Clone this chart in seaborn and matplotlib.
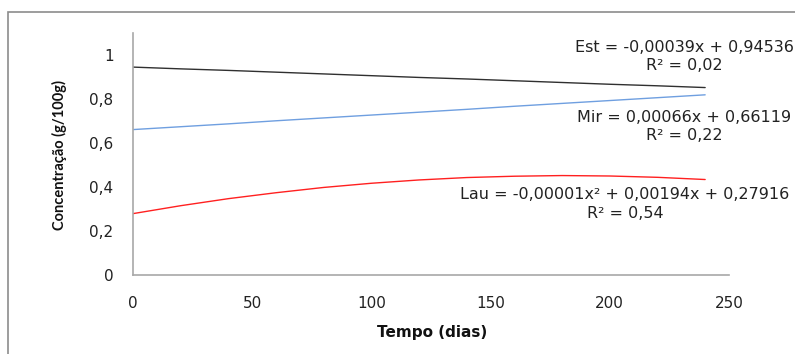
import matplotlib
matplotlib.use("Agg")
import matplotlib.pyplot as plt
import seaborn as sns
import pandas as pd
from matplotlib.patches import Rectangle

# Data (trend lines, days 0..240)
dias = [0, 20, 40, 60, 80, 100, 120, 140, 160, 180, 200, 220, 240]
est = [0.945, 0.937, 0.930, 0.922, 0.914, 0.906, 0.898, 0.891, 0.883, 0.875, 0.867, 0.860, 0.852]
mir = [0.661, 0.674, 0.687, 0.701, 0.714, 0.727, 0.740, 0.753, 0.767, 0.780, 0.793, 0.806, 0.819]
lau = [0.279, 0.315, 0.347, 0.374, 0.398, 0.417, 0.432, 0.443, 0.449, 0.452, 0.450, 0.444, 0.434]

series_names = ["Est", "Mir", "Lau"]
series_colors = ["#303030", "#6F9FE0", "#FF2020"]
equations = ["Est = -0,00039x + 0,94536\nR² = 0,02",
             "Mir = 0,00066x + 0,66119\nR² = 0,22",
             "Lau = -0,00001x² + 0,00194x + 0,27916\nR² = 0,54"]

y_ticks = [0, 0.2, 0.4, 0.6, 0.8, 1.0]
y_ticklabels = ["0", "0,2", "0,4", "0,6", "0,8", "1"]
x_ticks = [0, 50, 100, 150, 200, 250]
x_ticklabels = ["0", "50", "100", "150", "200", "250"]

rows = []
for name, vals in zip(series_names, [est, mir, lau]):
    for d, v in zip(dias, vals):
        rows.append({"Tempo": d, "Conc": v, "Serie": name})
df = pd.DataFrame(rows)

sns.set_style("white")
plt.rcParams["font.family"] = ["DejaVu Sans"]

W, H = 795, 354
fig = plt.figure(figsize=(W / 100, H / 100), dpi=100)
ax = fig.add_axes([133 / W, 1 - 275 / H, (729 - 133) / W, (275 - 33) / H])

sns.lineplot(data=df, x="Tempo", y="Conc", hue="Serie",
             palette=dict(zip(series_names, series_colors)),
             legend=False, ax=ax, linewidth=1.0)

ax.set_xlim(0, 250)
ax.set_ylim(0, 1.1)
ax.set_xticks(x_ticks)
ax.set_xticklabels(x_ticklabels)
ax.set_yticks(y_ticks)
ax.set_yticklabels(y_ticklabels)
ax.tick_params(axis="both", length=0, labelsize=11, colors="#222222")
ax.tick_params(axis="x", pad=15)
ax.tick_params(axis="y", pad=14)
for s in ["top", "right"]:
    ax.spines[s].set_visible(False)
for s in ["left", "bottom"]:
    ax.spines[s].set_color("#A8A8A8")
    ax.spines[s].set_linewidth(1.2)
ax.set_xlabel("")
ax.set_ylabel("")

fig.text(432 / W, 1 - 333 / H, "Tempo (dias)", ha="center", va="center",
         fontsize=11, fontweight="bold", color="#111111")
fig.text(59 / W, 1 - 155 / H, "Concentração (g/100g)", ha="center", va="center",
         rotation=90, fontsize=10.5, family=["Lato", "DejaVu Sans"],
         fontweight="bold", color="#111111")

eq_pos = [(684, 56.5), (684, 126.5), (625, 204)]
for (px, py), txt in zip(eq_pos, equations):
    fig.text(px / W, 1 - py / H, txt, ha="center", va="center",
             multialignment="center", fontsize=11.5, color="#222222",
             linespacing=1.3)

fig.patches.append(Rectangle((8 / W, -0.1), 1.2, 1.1 - 12 / H,
                             transform=fig.transFigure, fill=False,
                             edgecolor="#8C8C8C", linewidth=1.2))

fig.savefig("out.png", dpi=100)
